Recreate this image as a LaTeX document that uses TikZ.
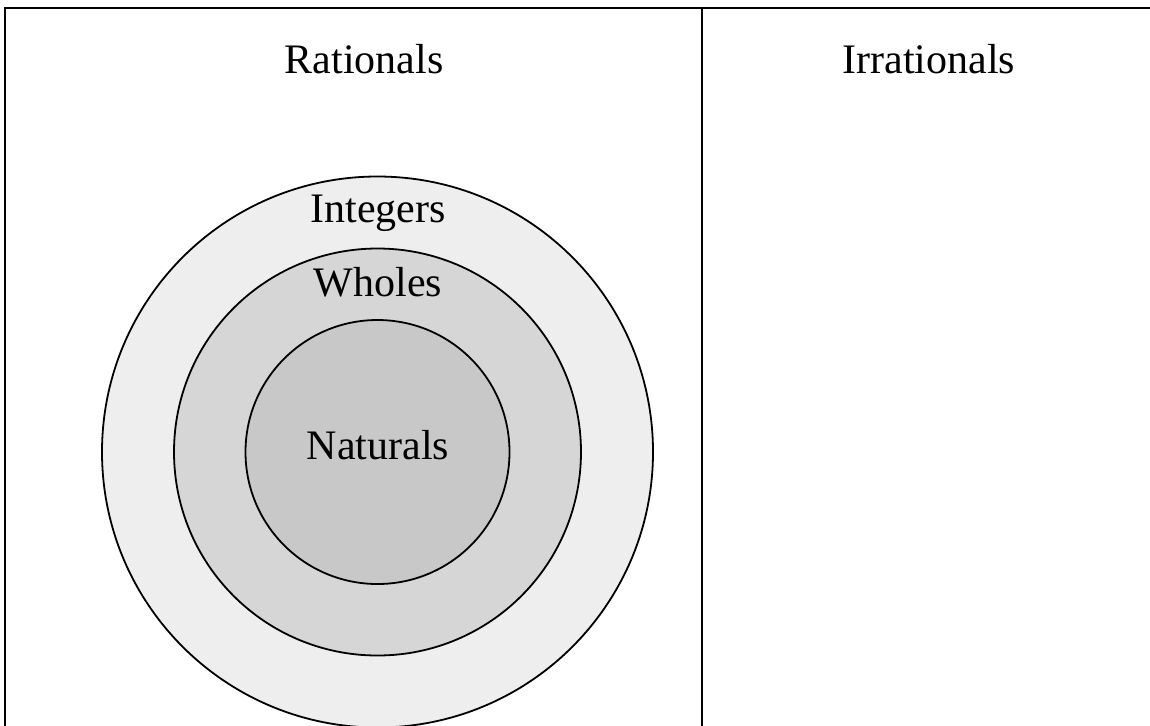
\documentclass[tikz,border=0pt]{standalone}
\usepackage{fontspec}
\setmainfont{Liberation Serif}
\definecolor{ringa}{HTML}{EEEEEE}
\definecolor{ringb}{HTML}{D6D6D6}
\definecolor{ringc}{HTML}{C8C8C8}
\tikzset{
  ring/.style={circle, draw, line width=0.9pt, inner sep=0pt},
  setname/.style={anchor=base, font=\fontsize{21}{25}\selectfont, inner sep=0pt}
}
\begin{document}
\begin{tikzpicture}[x=0.5pt, y=-0.5pt]
      \useasboundingbox (0,0) rectangle (1150,725);
      \draw
        (377.5,452) node[ring, fill=ringa, minimum size=275.5pt] (Z){}
        (377.5,452) node[ring, fill=ringb, minimum size=203.5pt] (W){}
        (377.5,452) node[ring, fill=ringc, minimum size=132pt] (N){};
      \draw
        (364,73) node[setname] (Q){Rationals}
        (929,73) node[setname] (I){Irrationals}
        (378,222) node[setname] (Zl){Integers}
        (378,296) node[setname] (Wl){Wholes}
        (378,459) node[setname] (Nl){Naturals};
      \coordinate (tl) at (5.3,8);
      \coordinate (tr) at (1150,8);
      \coordinate (bl) at (5.3,725);
      \coordinate (mt) at (701.7,8);
      \coordinate (mb) at (701.7,725);
      \begin{scope}[line width=1pt, line cap=rect]
        \draw (bl) -- (tl) -- (tr);
        \draw (mt) to (mb);
      \end{scope}
    \end{tikzpicture}
\end{document}
